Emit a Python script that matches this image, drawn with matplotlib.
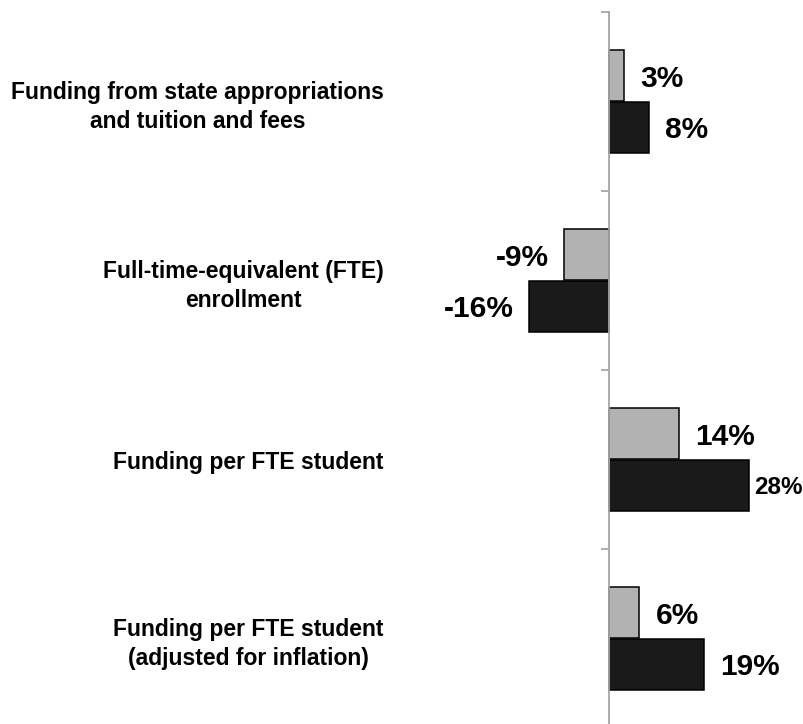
import matplotlib.pyplot as plt
import numpy as np

categorias = ["Funding from state appropriations\nand tuition and fees",
              "Full-time-equivalent (FTE)\nenrollment",
              "Funding per FTE student",
              "Funding per FTE student\n(adjusted for inflation)"]
serie_gris = [3, -9, 14, 6]
serie_negra = [8, -16, 28, 19]

plt.rcParams['font.family'] = ['Liberation Sans', 'DejaVu Sans']
plt.rcParams['font.weight'] = 'bold'

fig = plt.figure(figsize=(8.04, 7.24), dpi=100)
ax = fig.add_axes([0, -4/724, 1, 716/724])

y = np.arange(len(categorias))
alto = 0.285
b1 = ax.barh(y - 0.143, serie_gris, height=alto, color='#b2b2b2', edgecolor='black', linewidth=1.1)
b2 = ax.barh(y + 0.143, serie_negra, height=alto, color='#1a1a1a', edgecolor='black', linewidth=1.1)

etiquetas1 = ax.bar_label(b1, fmt='%d%%', padding=11.5, fontsize=21.5, fontweight='bold')
etiquetas2 = ax.bar_label(b2, fmt='%d%%', padding=11.5, fontsize=21.5, fontweight='bold')
# la de 28% va apretada contra el borde
etiquetas2[2].set_fontsize(17.5)
etiquetas2[2].xyann = (3, 0)
for t in list(etiquetas1) + list(etiquetas2):
    t.xyann = (t.xyann[0], -2)

ax.set_xlim(-609.5/5, (804-609.5)/5)
ax.set_ylim(3.5, -0.5)

for s in ['top', 'right', 'bottom']:
    ax.spines[s].set_visible(False)
ax.spines['left'].set_position(('data', 0))
ax.spines['left'].set_color('#a6a6a6')
ax.spines['left'].set_linewidth(1.3)
ax.set_xticks([])

ax.set_yticks([-0.5, 0.5, 1.5, 2.5, 3.5])
ax.set_yticklabels([])
ax.tick_params(axis='y', which='major', length=6, width=1.3, color='#a6a6a6', direction='out')
ax.set_yticks(y, minor=True)
ax.set_yticklabels(categorias, minor=True, fontsize=16.5, fontweight='bold', ha='right',
                   multialignment='center', linespacing=1.35)
ax.tick_params(axis='y', which='minor', length=0, pad=162.5)

fig.savefig('out.png')
